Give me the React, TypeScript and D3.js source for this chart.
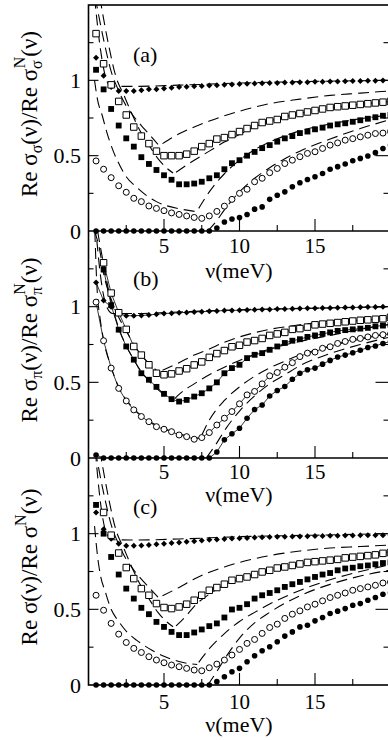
import React from 'react';
import * as d3 from 'd3';

type Pt = [number, number];

// photon energy ν (meV) of the marker series
const NU = [0.5, 1, 1.5, 2, 2.5, 3, 3.5, 4, 4.5, 5, 5.5, 6, 6.5, 7, 7.5, 8, 8.5, 9, 9.5, 10,
  10.5, 11, 11.5, 12, 12.5, 13, 13.5, 14, 14.5, 15, 15.5, 16, 16.5, 17, 17.5, 18, 18.5, 19, 19.5, 20];

const X_TICK_LABELS = [5, 10, 15];
const Y_TICK_LABELS = [0, 0.5, 1];

// panel (a)
const A_DIAMOND = [1.15, 1.03, 0.955, 0.93, 0.93, 0.93, 0.935, 0.94, 0.94, 0.945, 0.95, 0.955, 0.958, 0.96, 0.963, 0.965, 0.968, 0.97, 0.973, 0.975,
  0.977, 0.979, 0.98, 0.982, 0.983, 0.985, 0.986, 0.987, 0.988, 0.99, 0.991, 0.992, 0.993, 0.994, 0.995, 0.996, 0.997, 0.998, 0.999, 1.0];
const A_OPEN_SQ = [1.31, 1.11, 0.97, 0.86, 0.77, 0.69, 0.63, 0.58, 0.53, 0.5, 0.5, 0.5, 0.51, 0.53, 0.56, 0.58, 0.61, 0.62, 0.64, 0.66,
  0.68, 0.7, 0.72, 0.73, 0.74, 0.76, 0.77, 0.78, 0.79, 0.8, 0.81, 0.82, 0.825, 0.83, 0.835, 0.84, 0.845, 0.85, 0.855, 0.86];
const A_FILLED_SQ = [1.07, 0.94, 0.81, 0.7, 0.615, 0.56, 0.49, 0.445, 0.405, 0.37, 0.34, 0.31, 0.31, 0.315, 0.327, 0.35, 0.37, 0.41, 0.45, 0.47,
  0.5, 0.525, 0.55, 0.57, 0.593, 0.615, 0.63, 0.65, 0.66, 0.675, 0.686, 0.7, 0.708, 0.715, 0.725, 0.735, 0.745, 0.755, 0.765, 0.77];
const A_OPEN_CIRC = [0.465, 0.41, 0.354, 0.3, 0.257, 0.217, 0.195, 0.166, 0.15, 0.135, 0.12, 0.11, 0.1, 0.09, 0.084, 0.1, 0.13, 0.165, 0.21, 0.25,
  0.277, 0.327, 0.35, 0.387, 0.415, 0.448, 0.47, 0.493, 0.515, 0.526, 0.548, 0.57, 0.585, 0.603, 0.613, 0.625, 0.636, 0.647, 0.65, 0.66];
const A_FILLED_CIRC = [0, 0, 0, 0, 0, 0, 0, 0, 0, 0, 0, 0, 0, 0, 0, 0, 0.02, 0.06, 0.08, 0.09,
  0.11, 0.145, 0.16, 0.21, 0.237, 0.26, 0.294, 0.32, 0.342, 0.36, 0.382, 0.41, 0.427, 0.445, 0.466, 0.482, 0.498, 0.52, 0.548, 0.57];

const A_DASHED: Pt[][] = [
  [[0.4, 1.55], [0.8, 1.2], [1.2, 1.0], [1.5, 0.96], [3, 0.96], [6, 0.968], [10, 0.982], [15, 0.993], [20, 1.0]],
  [[0.45, 1.55], [1.0, 1.27], [1.5, 1.06], [2, 0.93], [2.5, 0.83], [3, 0.76], [3.5, 0.7], [4, 0.645], [4.6, 0.575]],
  [[4.9, 0.58], [6, 0.645], [7, 0.69], [8, 0.73], [9, 0.765], [10, 0.795], [12, 0.845], [14, 0.875], [16, 0.9], [18, 0.915], [20, 0.93]],
  [[0.75, 1.55], [1.3, 1.25], [1.8, 1.03], [2.35, 0.9], [3, 0.75], [3.5, 0.65], [4, 0.57], [4.6, 0.48], [5.1, 0.425], [5.6, 0.385]],
  [[5.8, 0.39], [7, 0.47], [8, 0.53], [9, 0.59], [10, 0.64], [11, 0.69], [12, 0.73], [14, 0.78], [16, 0.815], [18, 0.84], [20, 0.86]],
  [[0.4, 1.0], [0.6, 0.87], [0.9, 0.77], [1.2, 0.66], [1.6, 0.54], [2.1, 0.43], [2.5, 0.36], [3.2, 0.29], [3.85, 0.235], [4.5, 0.195], [5.2, 0.167], [6, 0.148], [7.15, 0.128]],
  [[7.3, 0.15], [8, 0.26], [9, 0.38], [10, 0.47], [11, 0.54], [12, 0.59], [14, 0.665], [16, 0.71], [18, 0.745], [20, 0.77]],
  [[7.9, 0], [8.5, 0.07], [9, 0.14], [10, 0.26], [11, 0.35], [12, 0.42], [13, 0.48], [14, 0.53], [16, 0.61], [18, 0.68], [20, 0.74]],
];

// panel (b)
const B_DIAMOND = [1.16, 1.04, 1.0, 0.955, 0.94, 0.94, 0.942, 0.945, 0.95, 0.955, 0.957, 0.96, 0.962, 0.965, 0.967, 0.97, 0.972, 0.974, 0.975, 0.977,
  0.978, 0.98, 0.981, 0.982, 0.984, 0.985, 0.986, 0.988, 0.989, 0.99, 0.991, 0.992, 0.993, 0.994, 0.995, 0.996, 0.997, 0.998, 0.999, 1.0];
const B_OPEN_SQ = [null, 1.29, 1.09, 0.96, 0.85, 0.737, 0.68, 0.616, 0.56, 0.55, 0.556, 0.575, 0.59, 0.615, 0.635, 0.665, 0.69, 0.71, 0.735, 0.745,
  0.766, 0.776, 0.79, 0.81, 0.82, 0.83, 0.85, 0.855, 0.865, 0.88, 0.885, 0.89, 0.895, 0.9, 0.905, 0.91, 0.913, 0.917, 0.92, 0.93];
const B_FILLED_SQ = [null, 1.245, 1.01, 0.848, 0.737, 0.65, 0.56, 0.517, 0.47, 0.424, 0.389, 0.373, 0.384, 0.406, 0.428, 0.46, 0.5, 0.56, 0.594, 0.616,
  0.66, 0.682, 0.693, 0.715, 0.737, 0.76, 0.775, 0.785, 0.8, 0.81, 0.82, 0.83, 0.84, 0.845, 0.85, 0.855, 0.86, 0.87, 0.875, 0.88];
const B_OPEN_CIRC = [1.03, 0.775, 0.594, 0.46, 0.377, 0.318, 0.274, 0.24, 0.207, 0.19, 0.174, 0.152, 0.141, 0.124, 0.135, 0.168, 0.218, 0.263, 0.307, 0.358,
  0.417, 0.44, 0.49, 0.543, 0.565, 0.6, 0.63, 0.67, 0.693, 0.7, 0.725, 0.735, 0.757, 0.77, 0.784, 0.79, 0.8, 0.81, 0.815, 0.82];
const B_FILLED_CIRC = [0.02, 0, 0, 0, 0, 0, 0, 0, 0, 0, 0, 0, 0, 0, 0, 0, 0.04, 0.12, 0.16, 0.197,
  0.263, 0.32, 0.35, 0.41, 0.446, 0.472, 0.52, 0.56, 0.583, 0.594, 0.62, 0.645, 0.667, 0.68, 0.695, 0.712, 0.73, 0.74, 0.757, 0.77];

const B_DASHED: Pt[][] = [
  [[0.45, 1.55], [0.8, 1.2], [1.2, 1.0], [1.6, 0.955], [3, 0.955], [6, 0.965], [10, 0.98], [15, 0.99], [20, 1.0]],
  [[0.4, 1.5], [0.75, 1.37], [1.0, 1.22], [1.5, 1.05], [2, 0.93], [2.5, 0.84], [3, 0.75], [3.5, 0.68], [4, 0.625], [4.6, 0.57]],
  [[4.9, 0.58], [6, 0.63], [7, 0.68], [8, 0.72], [9, 0.765], [10, 0.8], [12, 0.85], [14, 0.88], [16, 0.905], [18, 0.925], [20, 0.94]],
  [[0.6, 1.5], [1.0, 1.28], [1.5, 1.03], [2, 0.86], [2.5, 0.74], [3, 0.65], [3.5, 0.57], [4, 0.51], [4.5, 0.46], [5, 0.42], [5.5, 0.385]],
  [[5.7, 0.39], [6, 0.42], [7, 0.49], [8, 0.55], [9, 0.6], [10, 0.645], [12, 0.72], [14, 0.77], [16, 0.81], [18, 0.85], [20, 0.885]],
  [[0.42, 1.5], [0.55, 1.15], [0.8, 0.9], [1.0, 0.78], [1.5, 0.6], [2, 0.47], [2.5, 0.385], [3, 0.325], [4, 0.245], [5, 0.195], [6, 0.16], [7, 0.135], [7.4, 0.13]],
  [[7.5, 0.15], [8, 0.25], [9, 0.38], [10, 0.47], [11, 0.54], [12, 0.595], [13, 0.64], [14, 0.68], [16, 0.74], [18, 0.785], [20, 0.825]],
  [[7.8, 0], [8.5, 0.1], [9, 0.18], [10, 0.31], [11, 0.41], [12, 0.49], [13, 0.55], [14, 0.61], [16, 0.69], [18, 0.75], [20, 0.8]],
];

// panel (c)
const C_DIAMOND = [1.14, 1.03, 0.967, 0.934, 0.92, 0.92, 0.922, 0.925, 0.93, 0.934, 0.938, 0.942, 0.946, 0.95, 0.955, 0.96, 0.962, 0.965, 0.968, 0.97,
  0.972, 0.974, 0.976, 0.978, 0.979, 0.98, 0.981, 0.982, 0.983, 0.984, 0.985, 0.986, 0.987, 0.988, 0.988, 0.989, 0.989, 0.99, 0.99, 0.99];
const C_OPEN_SQ = [null, 1.14, 0.99, 0.872, 0.776, 0.703, 0.637, 0.593, 0.538, 0.512, 0.505, 0.516, 0.534, 0.56, 0.593, 0.626, 0.644, 0.666, 0.692, 0.703,
  0.714, 0.73, 0.747, 0.758, 0.773, 0.78, 0.79, 0.8, 0.81, 0.815, 0.82, 0.825, 0.83, 0.84, 0.845, 0.85, 0.855, 0.86, 0.87, 0.875];
const C_FILLED_SQ = [1.19, 1.0, 0.846, 0.73, 0.637, 0.571, 0.51, 0.468, 0.417, 0.384, 0.351, 0.33, 0.33, 0.347, 0.367, 0.389, 0.407, 0.446, 0.499, 0.51,
  0.534, 0.571, 0.593, 0.608, 0.626, 0.648, 0.666, 0.681, 0.698, 0.714, 0.73, 0.74, 0.758, 0.77, 0.775, 0.785, 0.79, 0.798, 0.806, 0.81];
const C_OPEN_CIRC = [0.593, 0.494, 0.407, 0.336, 0.281, 0.242, 0.215, 0.187, 0.165, 0.147, 0.132, 0.121, 0.11, 0.099, 0.094, 0.114, 0.138, 0.165, 0.198, 0.235,
  0.275, 0.301, 0.341, 0.38, 0.402, 0.44, 0.468, 0.49, 0.516, 0.534, 0.556, 0.578, 0.593, 0.608, 0.626, 0.637, 0.648, 0.659, 0.674, 0.68];
const C_FILLED_CIRC = [0, 0, 0, 0, 0, 0, 0, 0, 0, 0, 0, 0, 0, 0, 0, 0, 0.022, 0.055, 0.088, 0.11,
  0.154, 0.193, 0.226, 0.253, 0.286, 0.323, 0.351, 0.384, 0.395, 0.424, 0.446, 0.472, 0.488, 0.505, 0.527, 0.538, 0.56, 0.578, 0.6, 0.61];

const C_DASHED: Pt[][] = [
  [[0.45, 1.55], [0.8, 1.2], [1.2, 1.0], [1.6, 0.96], [3, 0.958], [6, 0.965], [10, 0.98], [15, 0.99], [20, 1.0]],
  [[0.45, 1.55], [1.0, 1.27], [1.5, 1.06], [2, 0.93], [2.5, 0.83], [3, 0.76], [3.5, 0.7], [4, 0.645], [4.6, 0.58]],
  [[4.9, 0.59], [6, 0.645], [7, 0.7], [8, 0.745], [9, 0.78], [10, 0.81], [12, 0.855], [14, 0.885], [16, 0.905], [18, 0.915], [20, 0.925]],
  [[0.75, 1.55], [1.3, 1.25], [1.8, 1.03], [2.35, 0.9], [3, 0.75], [3.5, 0.65], [4, 0.57], [4.6, 0.48], [5.1, 0.425], [5.6, 0.385]],
  [[5.8, 0.39], [6.5, 0.46], [7, 0.52], [8, 0.6], [9, 0.66], [10, 0.7], [11, 0.73], [12, 0.755], [14, 0.8], [16, 0.835], [18, 0.86], [20, 0.88]],
  [[0.4, 1.05], [0.6, 0.85], [0.8, 0.72], [1.1, 0.62], [1.5, 0.5], [2, 0.42], [2.6, 0.345], [3.2, 0.295], [4.2, 0.23], [5, 0.19], [6.2, 0.15], [7.2, 0.135]],
  [[7.3, 0.15], [8, 0.24], [9, 0.34], [10, 0.42], [11, 0.48], [12, 0.535], [14, 0.625], [16, 0.695], [18, 0.75], [20, 0.795]],
  [[7.9, 0], [8.5, 0.09], [9, 0.17], [10, 0.31], [11, 0.41], [12, 0.48], [14, 0.59], [16, 0.665], [18, 0.72], [20, 0.76]],
];

const TEXT_STYLE = { fontFamily: '"Liberation Serif"' };
const LEFT = 88.5;
const RIGHT = 390.5;

const x = d3.scaleLinear().domain([0, 20]).range([LEFT, RIGHT]);

type Kind = 'diamond' | 'openSq' | 'filledSq' | 'openCirc' | 'filledCirc';
type Series = { kind: Kind; values: (number | null)[] };

const squareBig = d3.symbol().type(d3.symbolSquare).size(42)() as string;
const squareSmall = d3.symbol().type(d3.symbolSquare).size(34)() as string;
const diamond = d3.symbol().type(d3.symbolSquare).size(18)() as string;

function Marker({ kind, cx, cy }: { kind: Kind; cx: number; cy: number }) {
  switch (kind) {
    case 'diamond':
      return <path d={diamond} transform={`translate(${cx},${cy}) rotate(45)`} fill="#000" />;
    case 'openSq':
      return <path d={squareBig} transform={`translate(${cx},${cy})`} fill="#fff" stroke="#000" strokeWidth={1} />;
    case 'filledSq':
      return <path d={squareSmall} transform={`translate(${cx},${cy})`} fill="#000" />;
    case 'openCirc':
      return <circle cx={cx} cy={cy} r={3} fill="#fff" stroke="#000" strokeWidth={1} />;
    default:
      return <circle cx={cx} cy={cy} r={2.8} fill="#000" />;
  }
}

function YLabel({ cx, cy, sub }: { cx: number; cy: number; sub: string | null }) {
  return (
    <text transform={`translate(${cx},${cy}) rotate(-90)`} textAnchor="middle" fontSize={23} style={TEXT_STYLE}>
      <tspan>Re σ</tspan>
      {sub && <tspan fontSize={16} dy={5}>{sub}</tspan>}
      <tspan dy={sub ? -5 : 0}>(ν)/Re σ</tspan>
      {sub && <tspan fontSize={16} dy={5}>{sub}</tspan>}
      <tspan fontSize={16} dx={sub ? -8 : 0} dy={sub ? -17 : -11}>N</tspan>
      <tspan dy={sub ? 12 : 11}>(ν)</tspan>
    </text>
  );
}

type PanelProps = {
  id: string;
  top: number;
  bottom: number;
  series: Series[];
  dashed: Pt[][];
  solid: boolean;
  tag: string;
  tagY: number;
  sub: string | null;
  labelY: number;
  tickTextY: number;
  nuTextY: number;
};

function Panel(p: PanelProps) {
  const y = d3.scaleLinear().domain([0, 1.5]).range([p.bottom, p.top]);
  const curve = d3.line<Pt>().x(d => x(d[0])).y(d => y(d[1])).curve(d3.curveMonotoneX);
  const thru = d3.line<number | null>()
    .defined(v => v != null)
    .x((_, i) => x(NU[i]))
    .y(v => y(v as number));

  const xMajor = [5, 10, 15, 20];
  const xMinor = [2.5, 7.5, 12.5, 17.5];
  const yMajor = [0.5, 1];
  const yMinor = [0.25, 0.75, 1.25];

  return (
    <g>
      <defs>
        <clipPath id={p.id}>
          <rect x={LEFT} y={p.top} width={RIGHT - LEFT} height={p.bottom - p.top} />
        </clipPath>
      </defs>

      {xMajor.map(t => <line key={'xM' + t} x1={x(t)} x2={x(t)} y1={p.bottom} y2={p.bottom - 12} stroke="#000" strokeWidth={1.1} />)}
      {xMinor.map(t => <line key={'xm' + t} x1={x(t)} x2={x(t)} y1={p.bottom} y2={p.bottom - 6} stroke="#000" strokeWidth={1.1} />)}
      {yMajor.map(t => (
        <g key={'yM' + t}>
          <line x1={LEFT} x2={LEFT + 10} y1={y(t)} y2={y(t)} stroke="#000" strokeWidth={1.1} />
          <line x1={RIGHT} x2={RIGHT - 15} y1={y(t)} y2={y(t)} stroke="#000" strokeWidth={1.1} />
        </g>
      ))}
      {yMinor.map(t => (
        <g key={'ym' + t}>
          <line x1={LEFT} x2={LEFT + 5} y1={y(t)} y2={y(t)} stroke="#000" strokeWidth={1.1} />
          <line x1={RIGHT} x2={RIGHT - 7} y1={y(t)} y2={y(t)} stroke="#000" strokeWidth={1.1} />
        </g>
      ))}

      <g clipPath={`url(#${p.id})`} fill="none" stroke="#000">
        {p.dashed.map((d, i) => (
          <path key={'d' + i} d={curve(d) as string} strokeWidth={1.1} strokeDasharray="11 6" />
        ))}
        {p.solid && p.series.map((s, i) => (
          <path key={'s' + i} d={thru(s.values) as string} strokeWidth={0.8} />
        ))}
      </g>

      {p.series.map((s, si) => (
        <g key={'m' + si}>
          {s.values.map((v, i) => v == null ? null : (
            <Marker key={i} kind={s.kind} cx={x(NU[i])} cy={y(v)} />
          ))}
        </g>
      ))}

      {Y_TICK_LABELS.map(t => (
        <text key={'yl' + t} x={81} y={y(t)} dy="0.35em" textAnchor="end" fontSize={22} style={TEXT_STYLE}>{t}</text>
      ))}
      {X_TICK_LABELS.map(t => (
        <text key={'xl' + t} x={x(t)} y={p.tickTextY} textAnchor="middle" fontSize={21} style={TEXT_STYLE}>{t}</text>
      ))}
      <text x={239} y={p.nuTextY} textAnchor="middle" fontSize={22} style={TEXT_STYLE}>ν(meV)</text>
      <text x={133} y={p.tagY} fontSize={22} style={TEXT_STYLE}>{p.tag}</text>
      <YLabel cx={37} cy={p.labelY} sub={p.sub} />
    </g>
  );
}

export default function App() {
  const mk = (d: (number | null)[], o: (number | null)[], f: (number | null)[], oc: (number | null)[], fc: (number | null)[]): Series[] => [
    { kind: 'diamond', values: d },
    { kind: 'openSq', values: o },
    { kind: 'filledSq', values: f },
    { kind: 'openCirc', values: oc },
    { kind: 'filledCirc', values: fc },
  ];
  return (
    <svg width={388} height={740} style={{ position: 'absolute', left: 0, top: 0, background: '#fff' }}>
      <rect width={388} height={740} fill="#fff" />
      <Panel id="clipA" top={5} bottom={231}
        series={mk(A_DIAMOND, A_OPEN_SQ, A_FILLED_SQ, A_OPEN_CIRC, A_FILLED_CIRC)}
        dashed={A_DASHED} solid={false} tag="(a)" tagY={62} sub="σ" labelY={114} tickTextY={253} nuTextY={278} />
      <Panel id="clipB" top={231} bottom={458}
        series={mk(B_DIAMOND, B_OPEN_SQ, B_FILLED_SQ, B_OPEN_CIRC, B_FILLED_CIRC)}
        dashed={B_DASHED} solid={true} tag="(b)" tagY={286} sub="π" labelY={340} tickTextY={479} nuTextY={502} />
      <Panel id="clipC" top={458} bottom={685}
        series={mk(C_DIAMOND, C_OPEN_SQ, C_FILLED_SQ, C_OPEN_CIRC, C_FILLED_CIRC)}
        dashed={C_DASHED} solid={false} tag="(c)" tagY={514} sub={null} labelY={567} tickTextY={709} nuTextY={732} />
      <rect x={LEFT} y={5} width={RIGHT - LEFT} height={680} fill="none" stroke="#000" strokeWidth={1.6} />
      <line x1={LEFT} x2={RIGHT} y1={231} y2={231} stroke="#000" strokeWidth={1.6} />
      <line x1={LEFT} x2={RIGHT} y1={458} y2={458} stroke="#000" strokeWidth={1.6} />
    </svg>
  );
}
